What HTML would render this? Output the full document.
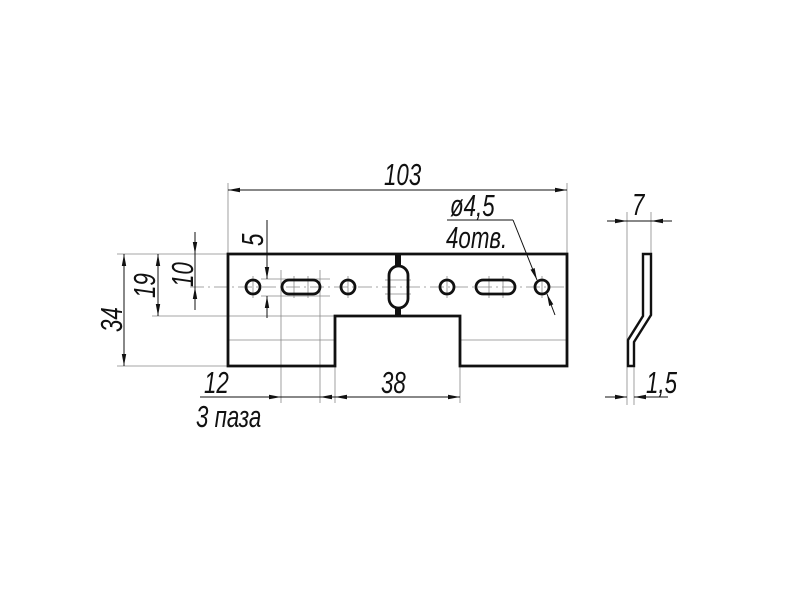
<!DOCTYPE html>
<html><head><style>body{margin:0;background:#fff}svg{display:block}text{font-family:"Liberation Sans",sans-serif;font-style:italic;fill:#111}</style></head><body>
<svg width="800" height="600" viewBox="0 0 800 600" xmlns="http://www.w3.org/2000/svg">
<defs><marker id="a" viewBox="0 0 12 6" refX="12" refY="3" markerWidth="12" markerHeight="6" orient="auto-start-reverse" markerUnits="userSpaceOnUse"><path d="M0,0.8 L12,3 L0,5.2z" fill="#111"/></marker></defs>
<g stroke="#888" stroke-width="0.8" fill="none">
<line x1="228" y1="183" x2="228" y2="254"/><line x1="567" y1="183" x2="567" y2="254"/>
<line x1="117" y1="254" x2="228" y2="254"/><line x1="117" y1="366" x2="228" y2="366"/>
<line x1="152" y1="316" x2="335" y2="316"/>
<line x1="190" y1="287" x2="567" y2="287" stroke-dasharray="14,4,2,4"/>
<line x1="261" y1="279" x2="330" y2="279"/><line x1="261" y1="296" x2="330" y2="296"/>
<line x1="281" y1="270" x2="281" y2="403"/><line x1="320" y1="270" x2="320" y2="403"/>
<line x1="335" y1="366" x2="335" y2="403"/><line x1="460" y1="366" x2="460" y2="403"/>
<line x1="228" y1="340" x2="335" y2="340"/><line x1="460" y1="340" x2="567" y2="340"/>
<line x1="627" y1="212" x2="627" y2="405"/><line x1="651" y1="212" x2="651" y2="254"/><line x1="634" y1="366" x2="634" y2="405"/>
<line x1="253" y1="276" x2="253" y2="298"/><line x1="348" y1="276" x2="348" y2="298"/><line x1="447" y1="276" x2="447" y2="298"/><line x1="542" y1="276" x2="542" y2="298"/>
<line x1="294" y1="276" x2="294" y2="298"/><line x1="308" y1="276" x2="308" y2="298"/>
<line x1="489" y1="276" x2="489" y2="298"/><line x1="503" y1="276" x2="503" y2="298"/>
<line x1="385" y1="280" x2="411" y2="280"/><line x1="385" y1="294" x2="411" y2="294"/>
</g>
<g stroke="#111" stroke-width="1" fill="none">
<line x1="228" y1="190" x2="567" y2="190" marker-start="url(#a)" marker-end="url(#a)"/>
<line x1="124" y1="254" x2="124" y2="366" marker-start="url(#a)" marker-end="url(#a)"/>
<line x1="158" y1="254" x2="158" y2="316" marker-start="url(#a)" marker-end="url(#a)"/>
<line x1="195" y1="232" x2="195" y2="254" marker-end="url(#a)"/><line x1="195" y1="310" x2="195" y2="287" marker-end="url(#a)"/><line x1="195" y1="254" x2="195" y2="287"/>
<line x1="267" y1="220" x2="267" y2="279" marker-end="url(#a)"/><line x1="267" y1="318" x2="267" y2="296" marker-end="url(#a)"/>
<line x1="200" y1="397" x2="320" y2="397"/><line x1="260" y1="397" x2="281" y2="397" marker-end="url(#a)"/><line x1="335" y1="397" x2="320" y2="397" marker-end="url(#a)"/>
<line x1="335" y1="397" x2="460" y2="397" marker-start="url(#a)" marker-end="url(#a)"/>
<line x1="607" y1="221" x2="627" y2="221" marker-end="url(#a)"/><line x1="672" y1="221" x2="651" y2="221" marker-end="url(#a)"/><line x1="627" y1="221" x2="651" y2="221"/>
<line x1="605" y1="397" x2="627" y2="397" marker-end="url(#a)"/><line x1="668" y1="397" x2="634" y2="397" marker-end="url(#a)"/>
<line x1="447" y1="220" x2="513" y2="220"/><line x1="513" y1="220" x2="537" y2="280" marker-end="url(#a)"/><line x1="555" y1="315" x2="547" y2="294" marker-end="url(#a)"/>
</g>
<g stroke="#111" stroke-width="2.8" fill="none" stroke-linejoin="miter">
<path d="M228,254 H567 V366 H460 V316 H335 V366 H228 Z"/>
<circle cx="253" cy="287" r="7"/><circle cx="348" cy="287" r="7"/><circle cx="447" cy="287" r="7"/><circle cx="542" cy="287" r="7"/>
<rect x="282" y="280" width="38" height="14" rx="7"/><rect x="476" y="280" width="39" height="14" rx="7"/>
<rect x="389" y="266" width="19" height="42" rx="9.5"/>
<path d="M643,254 H651 V315 L634,342 V366 H628 V340 L643,316 Z" stroke-width="2.4"/>
</g>
<rect x="395" y="254" width="6" height="12" fill="#111"/><rect x="395" y="308" width="6" height="8" fill="#111"/>
<g font-size="31">
<text transform="translate(384,185) scale(0.72,1)">103</text>
<text transform="translate(204,393) scale(0.72,1)">12</text>
<text transform="translate(196,427) scale(0.72,1)">3 паза</text>
<text transform="translate(381,393) scale(0.72,1)">38</text>
<text transform="translate(632,215) scale(0.72,1)">7</text>
<text transform="translate(646,393) scale(0.72,1)">1,5</text>
<text transform="translate(450,216) scale(0.72,1)">ø4,5</text>
<text transform="translate(446,248) scale(0.72,1)">4отв.</text>
<text transform="translate(122,332) rotate(-90) scale(0.72,1)">34</text>
<text transform="translate(155,298) rotate(-90) scale(0.72,1)">19</text>
<text transform="translate(193,287) rotate(-90) scale(0.72,1)">10</text>
<text transform="translate(263,246) rotate(-90) scale(0.72,1)">5</text>
</g>
</svg>
</body></html>
